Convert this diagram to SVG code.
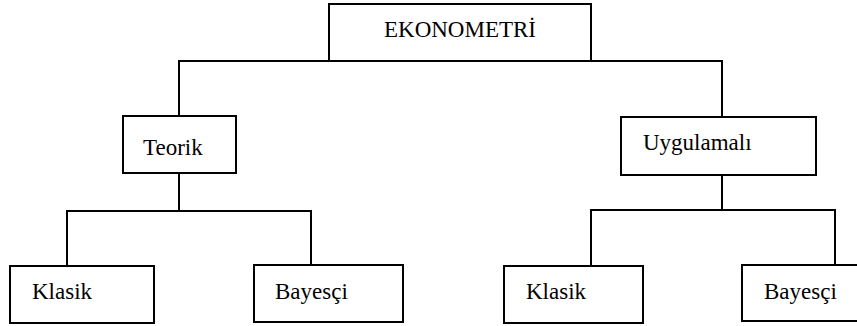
<svg xmlns="http://www.w3.org/2000/svg" width="857" height="326" viewBox="0 0 857 326">
<style>
.box{fill:#fff;stroke:#000;stroke-width:2}
.lbl{font-family:'Liberation Serif','Times New Roman',serif;font-size:23px;fill:#000}
.conn{fill:none;stroke:#000;stroke-width:2}
</style>
<rect width="857" height="326" fill="#fff"/>
<g id="connectors">
<path class="conn" d="M179,116 V61 H722 V116"/>
<path class="conn" d="M179,173 V211 M67,266 V211 H311 V265"/>
<path class="conn" d="M722,175 V210 M591,266 V210 H835 V265"/>
</g>
<g id="ekonometri">
<rect class="box" x="329" y="4" width="262" height="57"/>
<text class="lbl" x="460" y="37" text-anchor="middle">EKONOMETRİ</text>
</g>
<g id="teorik">
<rect class="box" x="123" y="116" width="113" height="57"/>
<text class="lbl" x="143" y="155">Teorik</text>
</g>
<g id="uygulamali">
<rect class="box" x="621" y="117" width="195" height="58"/>
<text class="lbl" x="643" y="150">Uygulamalı</text>
</g>
<g id="klasik1">
<rect class="box" x="10" y="266" width="144" height="57"/>
<text class="lbl" x="32" y="299">Klasik</text>
</g>
<g id="bayesci1">
<rect class="box" x="254" y="265" width="149" height="57"/>
<text class="lbl" x="275" y="299">Bayesçi</text>
</g>
<g id="klasik2">
<rect class="box" x="504" y="266" width="139" height="57"/>
<text class="lbl" x="526" y="299">Klasik</text>
</g>
<g id="bayesci2">
<rect class="box" x="742" y="265" width="125" height="56"/>
<text class="lbl" x="764" y="299">Bayesçi</text>
</g>
</svg>
